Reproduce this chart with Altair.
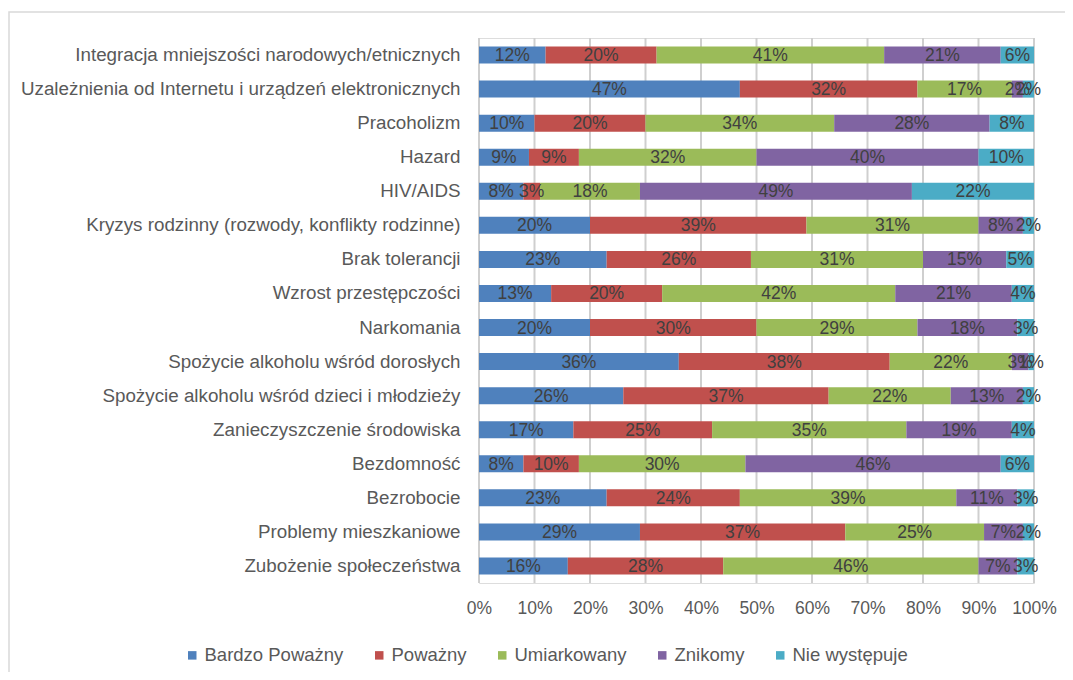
import altair as alt
import pandas as pd

issues = [
    "Integracja mniejszości narodowych/etnicznych",
    "Uzależnienia od Internetu i urządzeń elektronicznych",
    "Pracoholizm",
    "Hazard",
    "HIV/AIDS",
    "Kryzys rodzinny (rozwody, konflikty rodzinne)",
    "Brak tolerancji",
    "Wzrost przestępczości",
    "Narkomania",
    "Spożycie alkoholu wśród dorosłych",
    "Spożycie alkoholu wśród dzieci i młodzieży",
    "Zanieczyszczenie środowiska",
    "Bezdomność",
    "Bezrobocie",
    "Problemy mieszkaniowe",
    "Zubożenie społeczeństwa",
]
categories = ["Bardzo Poważny", "Poważny", "Umiarkowany", "Znikomy", "Nie występuje"]
colors = ["#4F81BD", "#C0504D", "#9BBB59", "#8064A2", "#4BACC6"]
tick_values = [0, 0.1, 0.2, 0.3, 0.4, 0.5, 0.6, 0.7, 0.8, 0.9, 1.0]

bardzo_powazny = [12, 47, 10, 9, 8, 20, 23, 13, 20, 36, 26, 17, 8, 23, 29, 16]
powazny        = [20, 32, 20, 9, 3, 39, 26, 20, 30, 38, 37, 25, 10, 24, 37, 28]
umiarkowany    = [41, 17, 34, 32, 18, 31, 31, 42, 29, 22, 22, 35, 30, 39, 25, 46]
znikomy        = [21, 2, 28, 40, 49, 8, 15, 21, 18, 3, 13, 19, 46, 11, 7, 7]
nie_wystepuje  = [6, 2, 8, 10, 22, 2, 5, 4, 3, 1, 2, 4, 6, 3, 2, 3]

series = [bardzo_powazny, powazny, umiarkowany, znikomy, nie_wystepuje]
rows = []
for ci, (cat, vals) in enumerate(zip(categories, series)):
    for issue, v in zip(issues, vals):
        rows.append({"issue": issue, "cat": cat, "ord": ci, "value": v})
df = pd.DataFrame(rows)
grid_df = pd.DataFrame({"t": tick_values})

FONT = "Liberation Sans"
xscale = alt.Scale(domain=[0, 1], nice=False)
xaxis = alt.Axis(
    title=None, format="%", values=tick_values,
    grid=False, domain=False, ticks=False,
    labelOverlap=False, labelFlush=False,
    labelPadding=16, labelFont=FONT, labelFontSize=17.5, labelColor="#595959",
)

grid = (
    alt.Chart(grid_df)
    .mark_rule(color="#CFCFCF", strokeWidth=2)
    .encode(x=alt.X("t:Q", scale=xscale, axis=xaxis), y=alt.value(0), y2=alt.value(545))
)

base = (
    alt.Chart(df)
    .transform_calculate(v="datum.value/100")
    .transform_stack(stack="v", as_=["v0", "v1"], groupby=["issue"], sort=[alt.SortField("ord")])
)

yenc = alt.Y(
    "issue:N",
    sort=issues,
    scale=alt.Scale(paddingInner=0.5, paddingOuter=0.25),
    axis=alt.Axis(
        title=None, ticks=False, domain=False, labelPadding=19,
        labelFont=FONT, labelFontSize=18.8, labelColor="#595959", labelLimit=600,
    ),
)

bars = base.mark_bar().encode(
    x=alt.X("v0:Q", scale=xscale, axis=xaxis),
    x2="v1:Q",
    y=yenc,
    color=alt.Color(
        "cat:N",
        sort=categories,
        scale=alt.Scale(domain=categories, range=colors),
        legend=alt.Legend(
            title=None, orient="none", direction="horizontal",
            legendX=-296, legendY=608, symbolType="square", symbolSize=72,
            symbolStrokeWidth=0, labelFont=FONT, labelFontSize=18.5, labelColor="#595959",
            columnPadding=26, labelOffset=3, padding=0,
        ),
    ),
    order=alt.Order("ord:Q"),
)

labels = (
    base.transform_calculate(mid="(datum.v0+datum.v1)/2", lab="datum.value + '%'")
    .mark_text(font=FONT, fontSize=17.5, color="#404040", baseline="middle", dy=1)
    .encode(x="mid:Q", y=alt.Y("issue:N", sort=issues), text="lab:N")
)

frame = (
    alt.Chart(alt.Data(values=[{"a": 1}]))
    .mark_rect(filled=False, stroke="#D9D9D9", strokeWidth=1.5)
    .encode(x=alt.value(-470), x2=alt.value(620), y=alt.value(-26), y2=alt.value(700))
)

chart = (
    alt.layer(frame, grid, bars, labels)
    .properties(
        width=555, height=545,
        autosize=alt.AutoSizeParams(type="none"),
        padding={"left": 471, "top": 30, "right": 31, "bottom": 89},
    )
    .configure_view(stroke=None)
    .configure(background="white")
)

chart.save("out.html", embed_options={"renderer": "svg", "actions": False})
